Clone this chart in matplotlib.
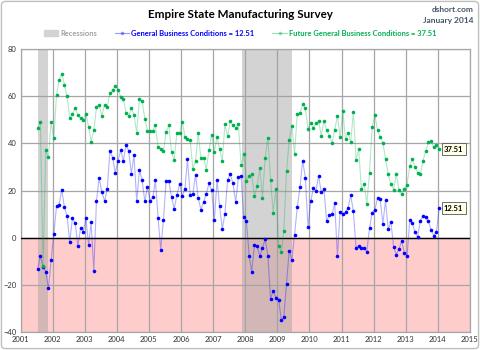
import numpy as np
import pandas as pd
import matplotlib
matplotlib.use("Agg")
import matplotlib.pyplot as plt
import matplotlib.dates as mdates
from matplotlib.patches import FancyBboxPatch, Patch
from matplotlib.lines import Line2D

plt.rcParams['font.family'] = ['Lato', 'DejaVu Sans']

# monthly survey values, Jul 2001 .. Jan 2014
months = pd.date_range("2001-07-01", "2014-01-01", freq="MS") + pd.Timedelta(days=14)

general = [
    -13.2, -7.9, -12.4, -14.5, -21.5, -9.6,                                   # 2001
    1.5, 13.4, 13.8, 20.4, 13.0, 9.2, -1.8, 8.2, 6.3, -3.5, 3.9, 2.5,          # 2002
    8.3, -3.2, 6.5, -14.2, 15.6, 25.4, 19.4, 15.6, 20.6, 36.9, 33.9, 27.5,     # 2003
    32.7, 37.0, 32.7, 39.2, 36.9, 27.2, 34.9, 15.4, 28.6, 24.5, 15.4, 21.5,    # 2004
    15.6, 17.2, 24.4, 8.5, -5.1, 7.7, 23.9, 23.9, 17.2, 12.3, 18.0, 22.7,      # 2005
    17.6, 20.8, 33.2, 18.3, 18.6, 26.6, 17.0, 11.8, 15.1, 18.6, 23.0, 20.1,    # 2006
    7.3, 24.5, 13.4, 3.7, 10.0, 24.6, 26.8, 23.0, 15.1, 25.6, 26.1, 8.6,       # 2007
    7.0, -7.6, -14.5, -3.1, -3.5, -7.9, -4.4, -0.7, -7.6, -25.8, -22.5, -25.6, # 2008
    -26.3, -34.9, -33.8, -19.7, -5.5, -9.3, 1.1, 12.8, 21.4, 32.7, 25.5, 4.6,  # 2009
    15.5, 21.0, 19.7, 26.3, 19.2, 20.7, 7.0, 9.7, 10.0, 14.6, -7.9, 10.8,      # 2010
    10.0, 11.0, 12.5, 17.9, 11.3, -4.4, -3.7, -4.4, -4.5, -5.9, 4.1, 10.6,     # 2011
    11.8, 16.8, 16.3, 5.9, 15.8, 3.5, 6.6, -3.8, -7.2, -4.8, -1.5, -6.3,       # 2012
    -7.9, 7.5, 6.3, 2.5, 0.3, 7.2, 9.2, 8.7, 6.9, 3.4, 0.8, 2.4,               # 2013
    12.51,                                                                     # 2014
]

future = [
    46.3, 49.0, -12.0, 37.0, 34.1, 49.0,
    42.1, 60.6, 66.8, 69.4, 64.9, 59.9, 50.8, 52.4, 54.9, 52.0, 50.6, 50.0,
    52.5, 47.0, 40.7, 45.5, 55.2, 56.3, 51.8, 56.3, 55.4, 61.3, 62.7, 64.3,
    62.8, 59.7, 58.9, 53.0, 51.8, 54.8, 52.1, 44.5, 58.7, 58.0, 50.4, 45.2,
    45.1, 45.2, 47.6, 38.5, 37.7, 36.6, 44.9, 47.6, 36.3, 33.0, 44.5, 44.5,
    49.2, 42.8, 42.0, 41.3, 29.3, 32.4, 44.2, 33.8, 33.6, 28.9, 37.2, 43.7,
    36.5, 42.8, 37.5, 32.7, 48.0, 43.1, 49.4, 47.6, 46.5, 48.2, 30.7, 35.4,
    24.2, 26.1, 26.8, 17.5, 22.0, 29.4, 17.0, 33.8, 42.4, 24.4, 10.6, 20.8,
    -3.5, -5.9, 2.8, 28.2, 41.3, 47.3, 35.5, 52.3, 52.7, 56.6, 54.9, 46.2,
    48.5, 46.6, 48.6, 49.6, 43.2, 49.3, 45.6, 43.2, 40.0, 45.6, 51.8, 42.5,
    53.8, 41.7, 44.5, 40.4, 53.4, 33.0, 37.5, 20.6, 22.7, 14.4, 27.5, 46.8,
    52.0, 45.5, 42.7, 40.3, 33.4, 26.8, 22.8, 20.3, 27.2, 20.3, 18.5, 20.8,
    22.5, 30.3, 33.2, 30.1, 27.6, 26.9, 32.5, 36.9, 40.4, 40.8, 38.3, 39.2,
    37.51,
]

recessions = [("2001-07-15", "2001-11-10"), ("2007-11-22", "2009-06-15")]
years = list(range(2001, 2016))
yticks = [-40, -20, 0, 20, 40, 60, 80]

BLUE = '#0000FF'
GREEN = '#00B050'
GRID = '#A6A6A6'

fig = plt.figure(figsize=(4.8, 3.5), dpi=100)
ax = fig.add_axes([20.5 / 480, 18 / 350, 449.5 / 480, 283 / 350])

# pink zone below zero
ax.axhspan(-40, 0, color='#FFCCCC', zorder=0, lw=0)
for start, end in recessions:
    ax.axvspan(pd.Timestamp(start), pd.Timestamp(end), color='#A0A0A0',
               alpha=0.46, lw=0, zorder=1)

ax.grid(True, color=GRID, lw=0.9, zorder=2)
ax.set_axisbelow(True)
ax.axhline(0, color='black', lw=1.0, zorder=3)

ax.plot(months, general, '-', color=BLUE, alpha=0.3, lw=0.8, zorder=4)
ax.plot(months, general, 'o', color=BLUE, ms=2.6, mec='none', zorder=5)
ax.plot(months, future, '-', color=GREEN, alpha=0.3, lw=0.8, zorder=4)
ax.plot(months, future, 'o', color=GREEN, ms=2.6, mec='none', zorder=5)

ax.set_xlim(pd.Timestamp("2001-01-01"), pd.Timestamp("2015-01-01"))
ax.set_ylim(-40, 80)
ax.set_xticks([pd.Timestamp(f"{y}-01-01") for y in years])
ax.xaxis.set_major_formatter(mdates.DateFormatter('%Y'))
ax.set_yticks(yticks)
ax.tick_params(labelsize=5.5, length=0, pad=3, colors='#333333')
for s in ax.spines.values():
    s.set_color(GRID)
    s.set_linewidth(0.9)

# end-of-series value labels
box = dict(boxstyle='square,pad=0.3', fc='#FFFFE6', ec='#555555', lw=0.6)
for series in (future, general):
    ax.annotate(f"{series[-1]:.2f}", (months[-1], series[-1]),
                xytext=(3.5, 0), textcoords='offset points', ha='left',
                va='center', fontsize=5.5, fontweight='bold', bbox=box,
                zorder=6)

fig.text(0.5, 1 - 14 / 350, "Empire State Manufacturing Survey",
         ha='center', va='center', fontsize=8.4, fontweight='bold')
fig.text(0.987, 1 - 9 / 350, "dshort.com", ha='right', va='center',
         fontsize=6, fontweight='bold', color='#44546A')
fig.text(0.987, 1 - 20 / 350, "January 2014", ha='right', va='center',
         fontsize=6, fontweight='bold', color='#44546A')

handles = [
    Patch(color='#D3D3D3'),
    Line2D([], [], color=BLUE, lw=0.8, alpha=0.4, marker='o', ms=2.6,
           mfc=BLUE, mec='none'),
    Line2D([], [], color=GREEN, lw=0.8, alpha=0.4, marker='o', ms=2.6,
           mfc=GREEN, mec='none'),
]
labels = ["Recessions",
          f"General Business Conditions = {general[-1]:.2f}",
          f"Future General Business Conditions = {future[-1]:.2f}"]
leg = fig.legend(handles, labels, loc='center', bbox_to_anchor=(0.5, 1 - 33 / 350),
                 ncol=3, frameon=False, prop={'size': 5.4, 'weight': 'bold'},
                 handlelength=1.9, handleheight=0.7, columnspacing=2.4,
                 handletextpad=0.3)
for txt, c in zip(leg.get_texts(), ['#A0A0A0', BLUE, GREEN]):
    txt.set_color(c)

fig.patches.append(FancyBboxPatch((0.003, 0.004), 0.994, 0.992,
                                  boxstyle='round,pad=0,rounding_size=0.01',
                                  transform=fig.transFigure, fill=False,
                                  ec='#BFBFBF', lw=1.0))

fig.savefig("out.png", dpi=100)
